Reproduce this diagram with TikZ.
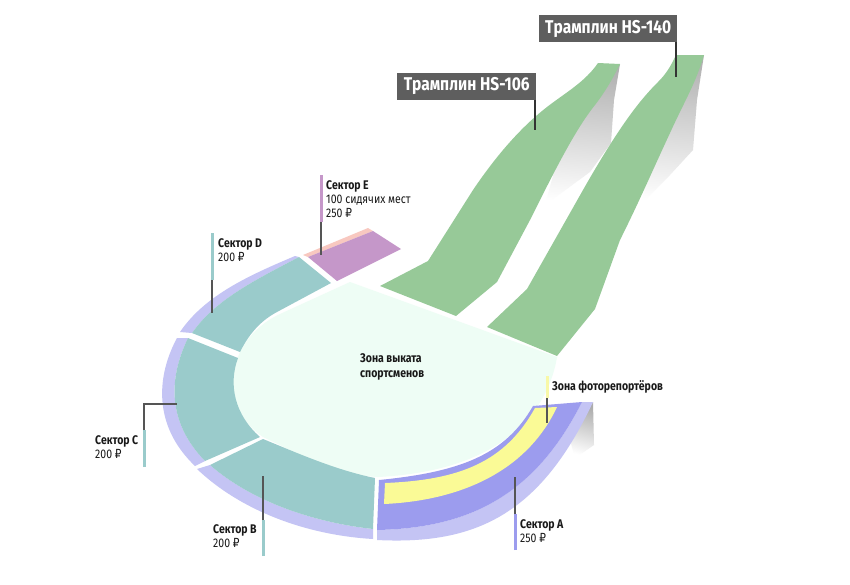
\documentclass[tikz,border=0pt]{standalone}
\usepackage{fontspec}
\setmainfont[FakeStretch=0.84]{Fira Sans}
\newfontfamily\rubfont[FakeStretch=0.84]{DejaVu Sans}
\newcommand{\rub}{{\rubfont\char"20BD}}
\definecolor{rampgreen}{HTML}{97C998}
\definecolor{zonemint}{HTML}{EEFDF5}
\definecolor{tealseat}{HTML}{9ACBCB}
\definecolor{lavband}{HTML}{C4C4F4}
\definecolor{violetseat}{HTML}{9C9CEE}
\definecolor{yellowseat}{HTML}{FAFA96}
\definecolor{purpleseat}{HTML}{C597C9}
\definecolor{pinkband}{HTML}{F8C8C0}
\definecolor{darkbox}{HTML}{5E5E5E}
\definecolor{leader}{HTML}{555555}
\definecolor{barpale}{HTML}{F8F8A8}
\tikzset{
 x=1pt,y=-1pt,
 rampbox/.style={fill=darkbox,text=white,font=\fontsize{18.5}{20}\selectfont\bfseries,inner sep=0pt,minimum height=27pt,anchor=north west},
 lbl/.style={anchor=west,inner sep=0pt,align=left,font=\fontsize{12.5}{14.2}\selectfont,text=black!90},
 leaderline/.style={draw=leader,line width=1.3pt},
 darkleader/.style={draw=black!80,line width=1.5pt},
 tagbar/.style={line width=3pt},
 shadowfill/.style={shading=axis,top color=gray!62,middle color=gray!24,bottom color=white,shading angle=-4}
}
\begin{document}
\begin{tikzpicture}
\useasboundingbox (0,0) rectangle (850,584);
\fill[white] (0,0) rectangle (850,584);
% shadows
\shade[shadowfill] (620,64) -- (614,100) -- (611,143) -- (590,172) -- (545,205) -- (560,150) -- cycle;
\shade[shadowfill] (704,55) -- (697,100) -- (693,150) -- (670,175) -- (640,205) -- (660,140) -- cycle;
\shade[shading=axis,top color=gray!65,middle color=gray!18,bottom color=white,shading angle=-15] (593,402) -- (594,445) -- (575,458) -- (570,440) -- cycle;
% ramps
\fill[rampgreen] (598,63) .. controls (585,82) and (565,93) .. (547,107) .. controls (525,124) and (500,150) .. (473,190) -- (428,261) -- (380,286) -- (456,316) -- (497,282) -- (530,220) .. controls (555,170) and (575,130) .. (595,105) .. controls (605,92) and (612,80) .. (620,64) -- cycle;
\fill[rampgreen] (676,55) .. controls (670,68) and (665,75) .. (658,82) .. controls (640,100) and (620,125) .. (583,190) -- (527,289) -- (487,327) -- (557,356) -- (595,309) -- (620,240) .. controls (640,200) and (655,165) .. (670,133) .. controls (685,100) and (695,85) .. (704,55) -- cycle;
% central zone
\fill[zonemint] (350,282) -- (557,357) .. controls (550,400) and (515,470) .. (378,477) .. controls (335,475) and (295,452) .. (263,437) .. controls (245,425) and (233,405) .. (233,382) .. controls (233,355) and (250,328) .. (280,314) -- cycle;
% sector E
\fill[pinkband] (303,255) -- (368,228) -- (373,231) -- (308,257) -- cycle;
\fill[purpleseat] (308,257) -- (373,231) -- (401,249) -- (337,281) -- cycle;
% sector D
\fill[lavband] (180,332) .. controls (205,295) and (250,275) .. (295,256) -- (299,257) .. controls (255,280) and (215,300) .. (192,333) -- cycle;
\fill[tealseat] (299,257) -- (331,283) -- (277,312) .. controls (262,320) and (250,332) .. (240,352) -- (192,333) .. controls (215,300) and (255,280) .. (299,257) -- cycle;
% sector C
\fill[lavband] (177,338) .. controls (157,375) and (152,425) .. (195,466) -- (205,461) .. controls (165,420) and (170,375) .. (188,338) -- cycle;
\fill[tealseat] (188,338) -- (238,358) .. controls (228,385) and (235,415) .. (260,437) -- (205,461) .. controls (165,420) and (170,375) .. (188,338) -- cycle;
% sector B
\fill[lavband] (197,469) .. controls (240,510) and (305,535) .. (373,539) -- (373,529) .. controls (310,522) and (250,500) .. (210,465) -- cycle;
\fill[tealseat] (263,439) .. controls (295,452) and (335,470) .. (375,478) -- (373,529) .. controls (310,522) and (250,500) .. (210,465) -- cycle;
% sector A
\fill[lavband] (377,530) -- (377,540) .. controls (475,545) and (540,515) .. (593,402) -- (582,402) .. controls (535,495) and (470,528) .. (377,530) -- cycle;
\fill[violetseat] (379,480) .. controls (460,472) and (505,455) .. (533,406) -- (582,402) .. controls (535,495) and (470,528) .. (377,530) -- cycle;
\fill[yellowseat] (385,483) .. controls (460,480) and (505,462) .. (535,408) -- (557,407) .. controls (530,465) and (470,500) .. (384,504) -- cycle;
% leader anchors
\coordinate (e1) at (321,175); \coordinate (e2) at (321,222); \coordinate (e3) at (321,255);
\coordinate (d1) at (212,233); \coordinate (d2) at (212,280); \coordinate (d3) at (212,313);
\coordinate (c1) at (144,467); \coordinate (c2) at (144,430); \coordinate (c3) at (144,404); \coordinate (c4) at (177,404);
\coordinate (b1) at (263,556); \coordinate (b2) at (263,520); \coordinate (b3) at (263,476);
\coordinate (a1) at (515,550); \coordinate (a2) at (515,514); \coordinate (a3) at (515,477);
\coordinate (p1) at (547,376); \coordinate (p2) at (547,398); \coordinate (p3) at (547,423);
% tags
\draw[tagbar,purpleseat] (e1) -- (e2); \draw[leaderline] (e2) -- (e3);
\draw[tagbar,tealseat] (d1) -- (d2); \draw[leaderline] (d2) -- (d3);
\draw[tagbar,tealseat] (c1) -- (c2); \draw[leaderline] (c2) -- (c3) -- (c4);
\draw[tagbar,tealseat] (b1) -- (b2); \draw[leaderline] (b2) -- (b3);
\draw[tagbar,violetseat] (a1) -- (a2); \draw[leaderline] (a2) -- (a3);
\draw[tagbar,barpale] (p1) -- (p2); \draw[leaderline] (p2) -- (p3);
% ramp labels
\node[rampbox,minimum width=138pt] (hs140) at (539,15) {Трамплин HS-140};
\node[rampbox,minimum width=139pt] (hs106) at (397,72.5) {Трамплин HS-106};
\coordinate (t140) at (676,77); \coordinate (t106) at (535,130);
\draw[darkleader] (hs140.south east -| t140) -- (t140);
\draw[darkleader] (hs106.south east -| t106) -- (t106);
% texts
\node[lbl] (le) at (326,199) {\textbf{Сектор E}\\100 сидячих мест\\250 \rub};
\node[lbl] (ld) at (218,250) {\textbf{Сектор D}\\200 \rub};
\node[lbl] (lc) at (95,447) {\textbf{Сектор C}\\200 \rub};
\node[lbl] (lb) at (213,536) {\textbf{Сектор B}\\200 \rub};
\node[lbl] (la) at (520,531) {\textbf{Сектор A}\\250 \rub};
\node[lbl] (lp) at (552,387) {\textbf{Зона фоторепортёров}};
\node[lbl] (lz) at (360,367) {\textbf{Зона выката}\\\textbf{спортсменов}};
\end{tikzpicture}
\end{document}
